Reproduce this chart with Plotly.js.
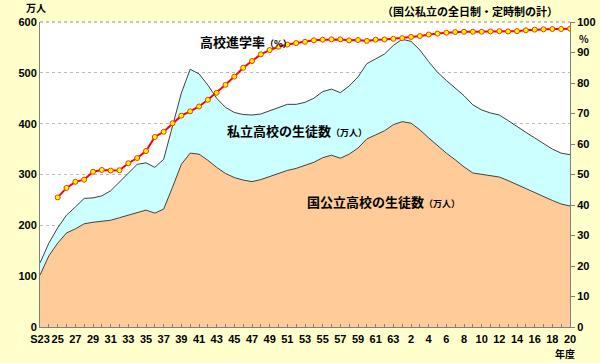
<!DOCTYPE html>
<html>
<head>
<meta charset="utf-8">
<script src="https://cdn.plot.ly/plotly-3.0.1.min.js"></script>
<style>html,body{margin:0;padding:0;background:#FFFFCC;}#chart{width:600px;height:363px;}</style>
</head>
<body>
<div id="chart"></div>
<script>
// Fiscal years S23 (1948) .. H20 (2008)
const yearLabels = ["S23","24","25","26","27","28","29","30","31","32","33","34","35","36","37","38","39","40","41","42","43","44","45","46","47","48","49","50","51","52","53","54","55","56","57","58","59","60","61","62","63","元","2","3","4","5","6","7","8","9","10","11","12","13","14","15","16","17","18","19","20"];
// Students at national/public high schools (10,000 persons)
const publicStudents = [102,140,165,185,193,203,206,208,210,215,220,225,230,224,232,275,320,342,340,328,314,302,294,289,286,290,296,302,308,312,318,324,333,338,332,340,352,370,378,386,398,404,401,388,372,357,342,329,315,303,300,298,295,288,280,273,265,256,249,242,238];
// Students at private high schools (10,000 persons)
const privateStudents = [24,25,30,35,43,50,48,50,58,70,82,95,93,90,98,120,140,165,158,148,136,130,128,129,131,129,129,130,130,126,124,126,130,130,129,134,140,148,149,151,156,162,161,157,150,144,143,141,140,134,127,123,122,118,114,110,107,105,101,100,101];
// High school advancement rate (%), from S25
const rateLabels = yearLabels.slice(2);
const advancementRate = [42.5,45.6,47.6,48.3,50.9,51.5,51.3,51.4,53.7,55.4,57.7,62.3,64.0,66.8,69.3,70.7,72.3,74.5,76.8,79.4,82.1,85.0,87.2,89.4,90.8,91.9,92.6,93.1,93.5,94.0,94.2,94.3,94.3,94.0,94.1,93.8,94.2,94.3,94.5,94.7,95.1,95.4,95.9,96.2,96.5,96.7,96.8,96.8,96.8,96.9,97.0,96.9,97.0,97.3,97.5,97.6,97.7,97.7,97.8];
const leftTicks = [0,100,200,300,400,500,600];
const rightTicks = [0,10,20,30,40,50,60,70,80,90,100];

const idx = yearLabels.map((_, i) => i);
const rateIdx = rateLabels.map(l => yearLabels.indexOf(l));
const tickText = yearLabels.map((l, i) => (i % 2 !== 0 ? "" : l));
const edge = '#404040';
const traces = [
  {x: idx, y: publicStudents, type: 'scatter', mode: 'lines', stackgroup: 'a',
   fillcolor: '#FFCC99', line: {color: edge, width: 1}, hoverinfo: 'skip'},
  {x: idx, y: privateStudents, type: 'scatter', mode: 'lines', stackgroup: 'a',
   fillcolor: '#CCFFFF', line: {color: edge, width: 1}, hoverinfo: 'skip'},
  {x: rateIdx, y: advancementRate, type: 'scatter', mode: 'lines+markers', yaxis: 'y2',
   line: {color: '#FF0000', width: 2},
   marker: {color: '#FFFF00', size: 5, line: {color: '#FF3300', width: 1}}}
];
const tf = {family: 'Liberation Sans, Arial, sans-serif', size: 11, color: '#000', weight: 'bold'};
const jp = 'Noto Sans CJK JP, sans-serif';
const px = v => (v - 40) / 530, py = v => (327 - v) / 305;
const layout = {
  width: 600, height: 363,
  paper_bgcolor: '#FFFFCC', plot_bgcolor: '#FFFFFF',
  margin: {l: 40, r: 30, t: 22, b: 36},
  showlegend: false,
  xaxis: {range: [0, 60], tickmode: 'array', tickvals: idx, ticktext: tickText,
    ticks: 'inside', ticklen: 3, tickcolor: '#808080', showgrid: false, zeroline: false,
    showline: true, linecolor: '#808080', linewidth: 1, tickfont: tf, tickangle: 0,
    ticklabelstandoff: 2, fixedrange: true},
  yaxis: {range: [0, 600], tickvals: leftTicks, ticks: '', showgrid: true,
    gridcolor: '#BBBBBB', griddash: 'dot', gridwidth: 1, zeroline: false,
    showline: true, linecolor: '#808080', tickfont: tf},
  yaxis2: {range: [0, 100], overlaying: 'y', side: 'right', tickvals: rightTicks,
    ticks: 'outside', ticklen: 4, tickcolor: '#808080', showgrid: false, zeroline: false,
    showline: true, linecolor: '#808080', tickfont: tf},
  shapes: [{type: 'line', xref: 'paper', yref: 'paper', x0: 0, x1: 1, y0: 1, y1: 1,
    line: {color: '#909090', width: 1, dash: 'dot'}}],
  annotations: [
    {xref: 'paper', yref: 'paper', x: px(198), y: py(42), xanchor: 'left', yanchor: 'middle', showarrow: false,
     text: "高校進学率<span style='font-size:9px'>（%）</span>", font: {family: jp, size: 13, color: '#000', weight: 'bold'}},
    {xref: 'paper', yref: 'paper', x: px(225), y: py(130), xanchor: 'left', yanchor: 'middle', showarrow: false,
     text: "私立高校の生徒数<span style='font-size:9px'>（万人）</span>", font: {family: jp, size: 13, color: '#000', weight: 'bold'}},
    {xref: 'paper', yref: 'paper', x: px(305), y: py(201), xanchor: 'left', yanchor: 'middle', showarrow: false,
     text: "国公立高校の生徒数<span style='font-size:9px'>（万人）</span>", font: {family: jp, size: 13, color: '#000', weight: 'bold'}},
    {xref: 'paper', yref: 'paper', x: px(560), y: py(11), xanchor: 'right', yanchor: 'middle', showarrow: false,
     text: "（国公私立の全日制・定時制の計）", font: {family: jp, size: 11, color: '#000', weight: 'bold'}},
    {xref: 'paper', yref: 'paper', x: px(36), y: py(8), xanchor: 'center', yanchor: 'middle', showarrow: false,
     text: "万人", font: {family: jp, size: 10, color: '#000', weight: 'bold'}},
    {xref: 'paper', yref: 'paper', x: px(584), y: py(38), xanchor: 'center', yanchor: 'middle', showarrow: false,
     text: "%", font: {family: jp, size: 10, color: '#000', weight: 'bold'}},
    {xref: 'paper', yref: 'paper', x: px(565), y: py(353), xanchor: 'center', yanchor: 'middle', showarrow: false,
     text: "年度", font: {family: jp, size: 10, color: '#000', weight: 'bold'}}
  ]
};
Plotly.newPlot('chart', traces, layout, {displayModeBar: false, staticPlot: true});
</script>
</body>
</html>
